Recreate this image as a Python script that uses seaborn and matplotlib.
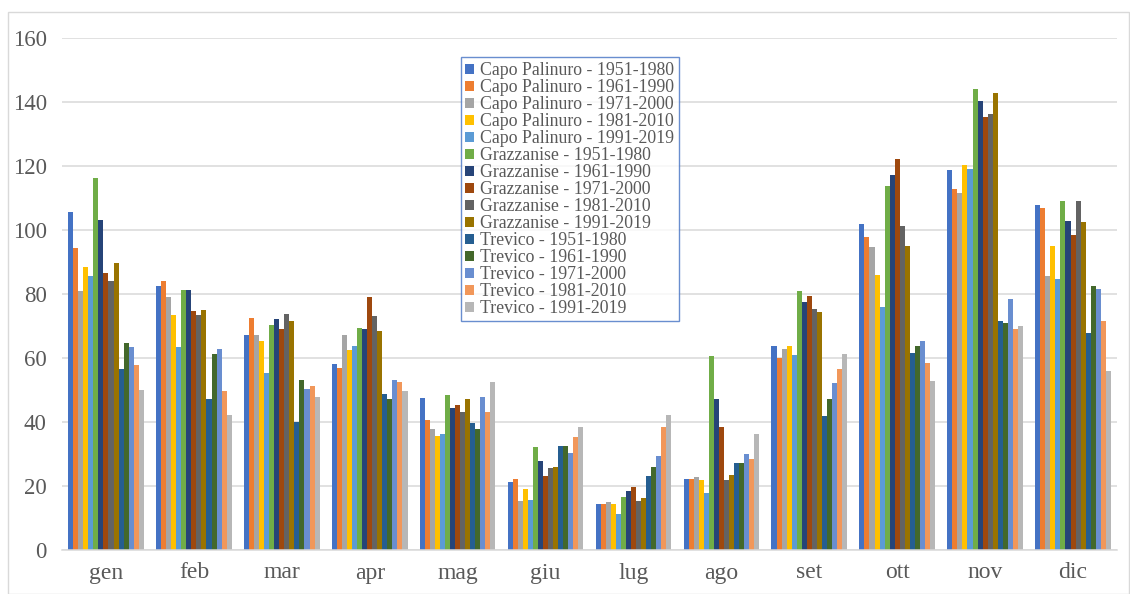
import matplotlib
matplotlib.use("Agg")
import matplotlib.pyplot as plt
import matplotlib.patches as mpatches
import numpy as np
import pandas as pd
import seaborn as sns

months = ["gen", "feb", "mar", "apr", "mag", "giu", "lug", "ago", "set", "ott", "nov", "dic"]

series_names = [
    "Capo Palinuro - 1951-1980", "Capo Palinuro - 1961-1990", "Capo Palinuro - 1971-2000",
    "Capo Palinuro - 1981-2010", "Capo Palinuro - 1991-2019",
    "Grazzanise - 1951-1980", "Grazzanise - 1961-1990", "Grazzanise - 1971-2000",
    "Grazzanise - 1981-2010", "Grazzanise - 1991-2019",
    "Trevico - 1951-1980", "Trevico - 1961-1990", "Trevico - 1971-2000",
    "Trevico - 1981-2010", "Trevico - 1991-2019",
]

# Monthly precipitation (mm), one list per month, in series order
gen = [105.5, 94.5, 81.0, 88.5, 85.5, 116.2, 103.2, 86.7, 84.2, 89.8, 56.5, 64.6, 63.3, 57.7, 50.0]
feb = [82.5, 84.2, 79.0, 73.3, 63.3, 81.1, 81.1, 74.7, 73.3, 75.0, 47.3, 61.1, 62.9, 49.6, 42.2]
mar = [67.3, 72.6, 67.3, 65.2, 55.2, 70.4, 72.2, 69.1, 73.9, 71.7, 39.9, 53.0, 50.3, 51.3, 47.8]
apr = [58.2, 57.0, 67.3, 62.6, 63.9, 69.5, 69.1, 79.1, 73.0, 68.3, 48.7, 47.3, 53.0, 52.6, 49.6]
mag = [47.4, 40.5, 37.9, 35.7, 36.2, 48.4, 44.4, 45.3, 43.2, 47.1, 39.7, 37.9, 47.9, 43.2, 52.4]
giu = [21.4, 22.3, 15.3, 19.1, 15.7, 32.2, 27.9, 23.2, 25.7, 25.8, 32.6, 32.6, 30.4, 35.4, 38.3]
lug = [14.5, 14.5, 14.9, 14.5, 11.4, 16.6, 18.4, 19.8, 15.3, 16.2, 23.2, 25.9, 29.4, 38.4, 42.3]
ago = [22.3, 22.3, 22.7, 21.9, 17.9, 60.5, 47.1, 38.4, 21.9, 23.5, 27.2, 27.2, 30.1, 28.4, 36.2]
set_ = [63.6, 60.0, 62.8, 63.9, 60.9, 80.9, 77.5, 79.3, 75.3, 74.5, 41.8, 47.1, 52.3, 56.7, 61.4]
ott = [102.0, 97.7, 94.7, 85.9, 76.0, 113.8, 117.3, 122.1, 101.2, 95.1, 61.6, 63.9, 65.2, 58.3, 52.7]
nov = [118.6, 112.9, 111.7, 120.2, 119.0, 144.1, 140.2, 135.4, 136.4, 142.9, 71.6, 70.8, 78.3, 69.1, 70.0]
dic = [107.7, 106.9, 85.6, 95.1, 84.8, 109.0, 102.9, 98.5, 109.0, 102.5, 67.9, 82.5, 81.6, 71.6, 55.8]

monthly_values = [gen, feb, mar, apr, mag, giu, lug, ago, set_, ott, nov, dic]

palette = [
    "#4472C4", "#ED7D31", "#A5A5A5", "#FFC000", "#5B9BD5",
    "#70AD47", "#264478", "#9E480E", "#636363", "#997300",
    "#255E91", "#43682B", "#698ED0", "#F1975A", "#B7B7B7",
]

rows = []
for m, vals in zip(months, monthly_values):
    for s, v in zip(series_names, vals):
        rows.append({"mese": m, "serie": s, "valore": v})
df = pd.DataFrame(rows)

sns.set_theme(style="white")
plt.rcParams["font.family"] = ["Liberation Serif", "DejaVu Serif"]

fig = plt.figure(figsize=(11.30, 5.94), dpi=100)
ax = fig.add_axes([62 / 1130, 1 - 550 / 594, (1117 - 62) / 1130, (550 - 38) / 594])

sns.barplot(
    data=df, x="mese", y="valore", hue="serie",
    order=months, hue_order=series_names, palette=palette,
    width=0.86, gap=0, linewidth=0, saturation=1, errorbar=None, ax=ax,
)

ax.set_ylim(0, 160)
ax.set_xlim(-0.5, 11.5)
ax.set_yticks(np.arange(0, 161, 20))
ax.yaxis.grid(True, color="#D9D9D9", linewidth=1.1)
ax.set_axisbelow(True)
for side in ["top", "right", "left"]:
    ax.spines[side].set_visible(False)
ax.spines["bottom"].set_color("#D9D9D9")
ax.spines["bottom"].set_linewidth(1.1)
ax.set_xlabel("")
ax.set_ylabel("")
ax.tick_params(axis="y", length=0, pad=11, labelsize=16.5, labelcolor="#595959")
ax.tick_params(axis="x", length=0, pad=9, labelsize=17, labelcolor="#595959")

handles = [mpatches.Patch(facecolor=c, edgecolor="none") for c in palette]
leg = ax.legend(
    handles, series_names, loc="upper left", bbox_to_anchor=(0.378, 0.962),
    borderaxespad=0, frameon=True, fancybox=False, fontsize=12.8,
    handlelength=0.5, handleheight=0.5, handletextpad=0.35, labelspacing=0.0,
    borderpad=0.25, labelcolor="#595959",
)
leg.get_frame().set_edgecolor("#4472C4")
leg.get_frame().set_linewidth(1.0)

# light chart border
fig.add_artist(mpatches.Rectangle((8 / 1130, 0.0), 1 - 9 / 1130, 1 - 12 / 594,
                                  transform=fig.transFigure, fill=False,
                                  edgecolor="#D9D9D9", linewidth=1.0))

fig.savefig("out.png", dpi=100)
